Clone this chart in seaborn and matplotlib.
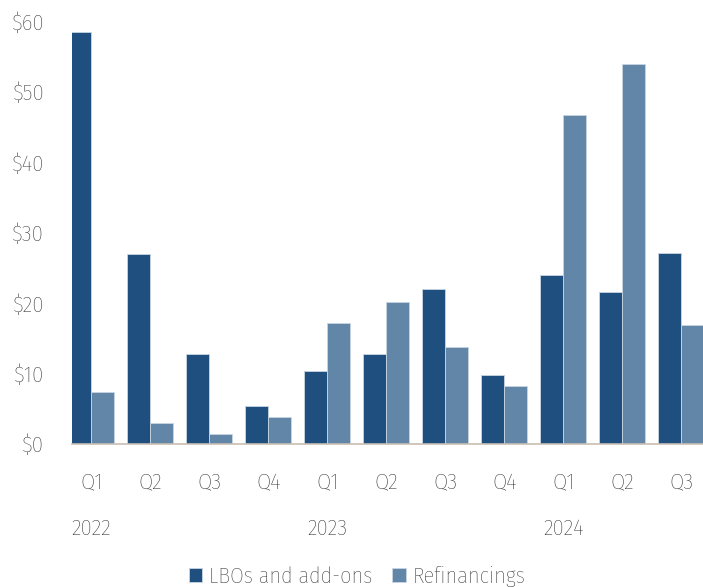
import matplotlib
matplotlib.use("Agg")
import matplotlib.pyplot as plt
import seaborn as sns
import pandas as pd

# Data (USD billions)
quarters = ["Q1", "Q2", "Q3", "Q4", "Q1", "Q2", "Q3", "Q4", "Q1", "Q2", "Q3"]
years = ["2022", "2023", "2024"]
year_positions = [0, 4, 8]
lbos = [58.5, 27.0, 12.8, 5.3, 10.3, 12.8, 22.0, 9.8, 24.0, 21.5, 27.1]
refis = [7.3, 2.9, 1.4, 3.8, 17.2, 20.1, 13.8, 8.2, 46.7, 54.0, 16.8]
series_names = ["LBOs and add-ons", "Refinancings"]
y_ticks = [0, 10, 20, 30, 40, 50, 60]
y_tick_labels = ["$0", "$10", "$20", "$30", "$40", "$50", "$60"]

colors = ["#1F4F7E", "#6286A8"]
text_color = "#1e1e1e"

rows = []
for i in range(len(quarters)):
    rows.append({"idx": i, "series": series_names[0], "value": lbos[i]})
    rows.append({"idx": i, "series": series_names[1], "value": refis[i]})
df = pd.DataFrame(rows)

sns.set_style("white")
plt.rcParams["font.family"] = ["Fira Sans Condensed", "DejaVu Sans"]
plt.rcParams["font.weight"] = "light"

fig = plt.figure(figsize=(7.03, 5.87), dpi=100)
ax = fig.add_axes([0.1024, 0.2441, 0.8976, 0.7193])

sns.barplot(data=df, x="idx", y="value", hue="series", hue_order=series_names,
            palette=colors, width=0.78, edgecolor="#C9D6E3", linewidth=0.6,
            saturation=1, ax=ax, legend=True)

ax.set_ylim(0, 60)
ax.set_xlim(-0.327, 10.366)
ax.set_yticks(y_ticks)
ax.set_yticklabels(y_tick_labels)
ax.set_xticks(range(len(quarters)))
ax.set_xticklabels(quarters)
ax.set_xlabel("")
ax.set_ylabel("")
ax.tick_params(axis="both", length=0, labelsize=16.5, colors=text_color)
ax.tick_params(axis="x", pad=20)
ax.tick_params(axis="y", pad=20)

for side in ["left", "right", "top"]:
    ax.spines[side].set_visible(False)
ax.spines["bottom"].set_color("#C8BFB4")
ax.spines["bottom"].set_linewidth(1.2)

# year labels under first quarter of each year
for pos, yr in zip(year_positions, years):
    ax.text(pos, -0.2, yr, transform=ax.get_xaxis_transform(),
            ha="center", va="center", fontsize=16.5, color=text_color)

handles, labels = ax.get_legend_handles_labels()
ax.get_legend().remove()
fig.legend(handles, labels, loc="lower center", bbox_to_anchor=(0.508, -0.034),
           ncol=2, frameon=False, fontsize=16, handlelength=0.6,
           handleheight=0.6, handletextpad=0.3, columnspacing=0.9,
           labelcolor=text_color)

fig.savefig("out.png", dpi=100)
plt.close(fig)
